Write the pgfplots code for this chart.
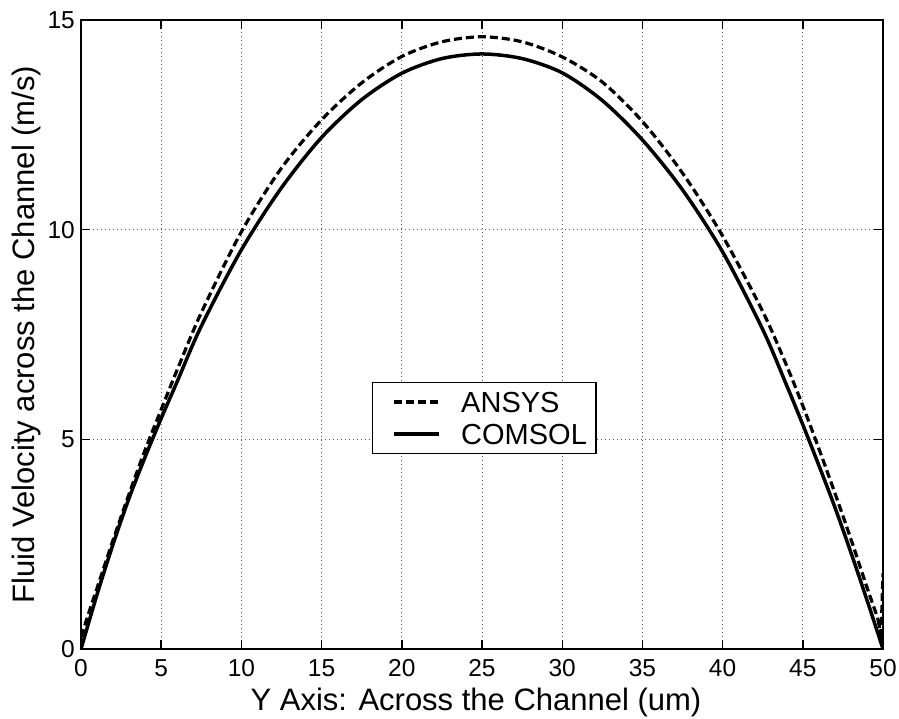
\documentclass[border=0pt]{standalone}
\usepackage{pgfplots}
\pgfplotsset{compat=1.18}
\usepackage{fontspec}
\setmainfont{Liberation Sans}

% Velocity profiles across the channel width
\pgfplotstableread{
y     v
0     0
1     1.30
2     2.50
3     3.60
4     4.58
5     5.50
6     6.38
7.5   7.70
10    9.52
12.5  11.00
15    12.20
17.5  13.10
20    13.73
22.5  14.08
25    14.19
27.5  14.08
30    13.74
32.5  13.08
35    12.14
37.5  10.95
40    9.47
42.5  7.62
44    6.28
45    5.35
46    4.38
47    3.38
48    2.30
49    1.17
50    0
}\comsol

\pgfplotstableread{
y     v
0     0
0.15  0.45
1     1.45
2     2.60
3     3.70
4     4.75
5     5.71
6     6.66
7.5   8.02
10    9.95
12.5  11.47
15    12.62
17.5  13.50
20    14.13
22.5  14.48
25    14.60
27.5  14.48
30    14.12
32.5  13.52
35    12.58
37.5  11.35
40    9.85
42.5  8.05
44    6.75
45    5.80
46    4.78
47    3.72
48    2.62
49    1.47
49.7  0.69
49.88 0.35
}\ansys

% last ANSYS cell jumps back up at the wall
\pgfplotstableread{
y     v
49.7  0.69
49.88 0.35
50    1.8
}\ansyswall

\begin{document}
\begin{tikzpicture}
\begin{axis}[
  scale only axis,
  width=802pt, height=629pt,
  xmin=0, xmax=50, ymin=0, ymax=15,
  xtick={0,5,...,50},
  ytick={0,5,10,15},
  axis line style={line width=1.4pt},
  tick align=inside,
  major tick length=9pt,
  tick style={line width=1.4pt, black},
  grid=major,
  major grid style={line width=1pt, black!65, dash pattern=on 1pt off 3pt},
  /pgf/number format/assume math mode=true,
  ticklabel style={font=\fontsize{24.5}{29}\selectfont},
  xticklabel style={anchor=base, yshift=-28pt, inner sep=0pt},
  yticklabel style={anchor=east, xshift=-6pt, inner sep=0pt},
  label style={font=\fontsize{31}{37}\selectfont},
  xlabel={Y Axis: Across the Channel (um)},
  ylabel={Fluid Velocity across the Channel (m/s)},
  xlabel style={at={(axis description cs:0.4925,-0.097)}, anchor=base},
  ylabel style={at={(axis description cs:-0.0586,0.5)}, anchor=base},
  legend style={
    at={(axis description cs:0.363,0.4245)}, anchor=north west,
    draw=black, line width=1.2pt, inner sep=9pt,
    font=\fontsize{29}{35}\selectfont,
    row sep=11pt, column sep=20pt,
    nodes={inner sep=0pt, text height=21pt, text depth=0pt},
  },
  legend cell align=left,
  legend image code/.code={
    \path (0pt,0pt);
    \draw[#1] (11pt,0pt) -- (56pt,0pt);
  },
]
\addplot[black, line width=3.2pt, dash pattern=on 8pt off 4pt, smooth, tension=0.5] table[x=y, y=v] {\ansys};
\addlegendentry{ANSYS}
\addplot[black, line width=3.5pt, smooth, tension=0.5] table[x=y, y=v] {\comsol};
\addlegendentry{COMSOL}
\addplot[black, line width=3.2pt, dash pattern=on 8pt off 4pt, forget plot] table[x=y, y=v] {\ansyswall};
\end{axis}
\pgfresetboundingbox
\useasboundingbox (-81pt,-70pt) rectangle (818pt,649pt);
\end{tikzpicture}
\end{document}
